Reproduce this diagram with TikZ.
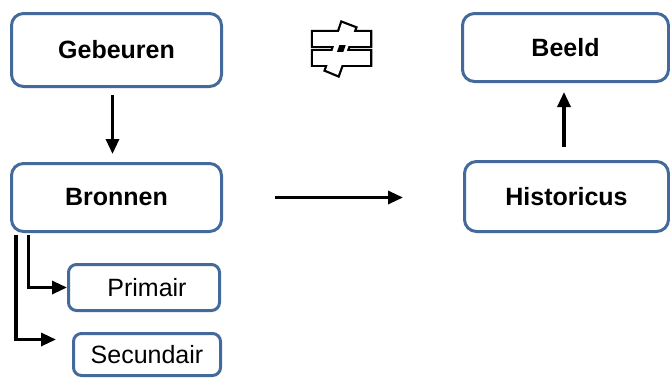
\documentclass[tikz,border=0pt]{standalone}
\usepackage{fontspec}
\setmainfont{Liberation Sans}
\usetikzlibrary{arrows.meta,calc}
\definecolor{boxblue}{HTML}{446A9B}
\tikzset{
  box/.style={draw=boxblue, line width=3pt, rounded corners=12pt, fill=white,
    align=center, inner sep=0pt, font=\fontsize{25}{30}\selectfont\bfseries},
  smallbox/.style={box, rounded corners=8pt, font=\fontsize{25}{30}\selectfont},
  arr/.style={draw=black, line width=3.2pt, -{Triangle[length=15pt,width=13pt]}},
  neq/.style={line width=4.5pt, line join=miter}
}
\begin{document}
\begin{tikzpicture}[x=1pt,y=-1pt]
\useasboundingbox (0,0) rectangle (670,378);
\node[box, minimum width=210pt, minimum height=73pt] (geb) at (116.5,50) {Gebeuren};
\node[box, minimum width=210pt, minimum height=68pt] (bron) at (116.5,197.5) {Bronnen};
\node[smallbox, minimum width=151pt, minimum height=46pt] (prim) at (144,287.5) {\hspace*{6pt}Primair};
\node[smallbox, minimum width=147pt, minimum height=42pt] (sec) at (147,354.5) {Secundair};
\node[box, minimum width=206pt, minimum height=68pt] (beeld) at (565.5,47.5) {Beeld};
\node[box, minimum width=204pt, minimum height=70pt] (hist) at (566.5,196.5) {Historicus};
\coordinate (secin) at (56,339.5);
% arrows
\draw[arr] ($(geb.south)+(-4,7)$) -- ($(bron.north)+(-4,-8)$);
\draw[arr, shorten <=52pt, shorten >=60pt] (bron.east) -- (bron.east -| hist.west);
\draw[arr] ($(hist.north)+(-2.5,-13)$) -- ($(beeld.south)+(-1.5,9)$);
\draw[arr] ($(bron.south west)+(18.5,1.5)$) |- (prim.west);
\draw[arr] ($(bron.south west)+(6,1.5)$) |- (secin);
% not-equal symbol
\draw[neq] (313,32) rectangle (370,45.5) (313,51) rectangle (370,64.5)
  (342,23) -- (355,28) -- (338,75) -- (326,70) -- cycle;
\fill[white] (313,32) rectangle (370,45.5);
\fill[white] (313,51) rectangle (370,64.5);
\fill[white] (342,23) -- (355,28) -- (338,75) -- (326,70) -- cycle;
\begin{scope}
  \clip (300,45) rectangle (380,51.5);
  \draw[line width=6pt] (349.5,25) -- (333,72.5);
\end{scope}
\end{tikzpicture}
\end{document}
